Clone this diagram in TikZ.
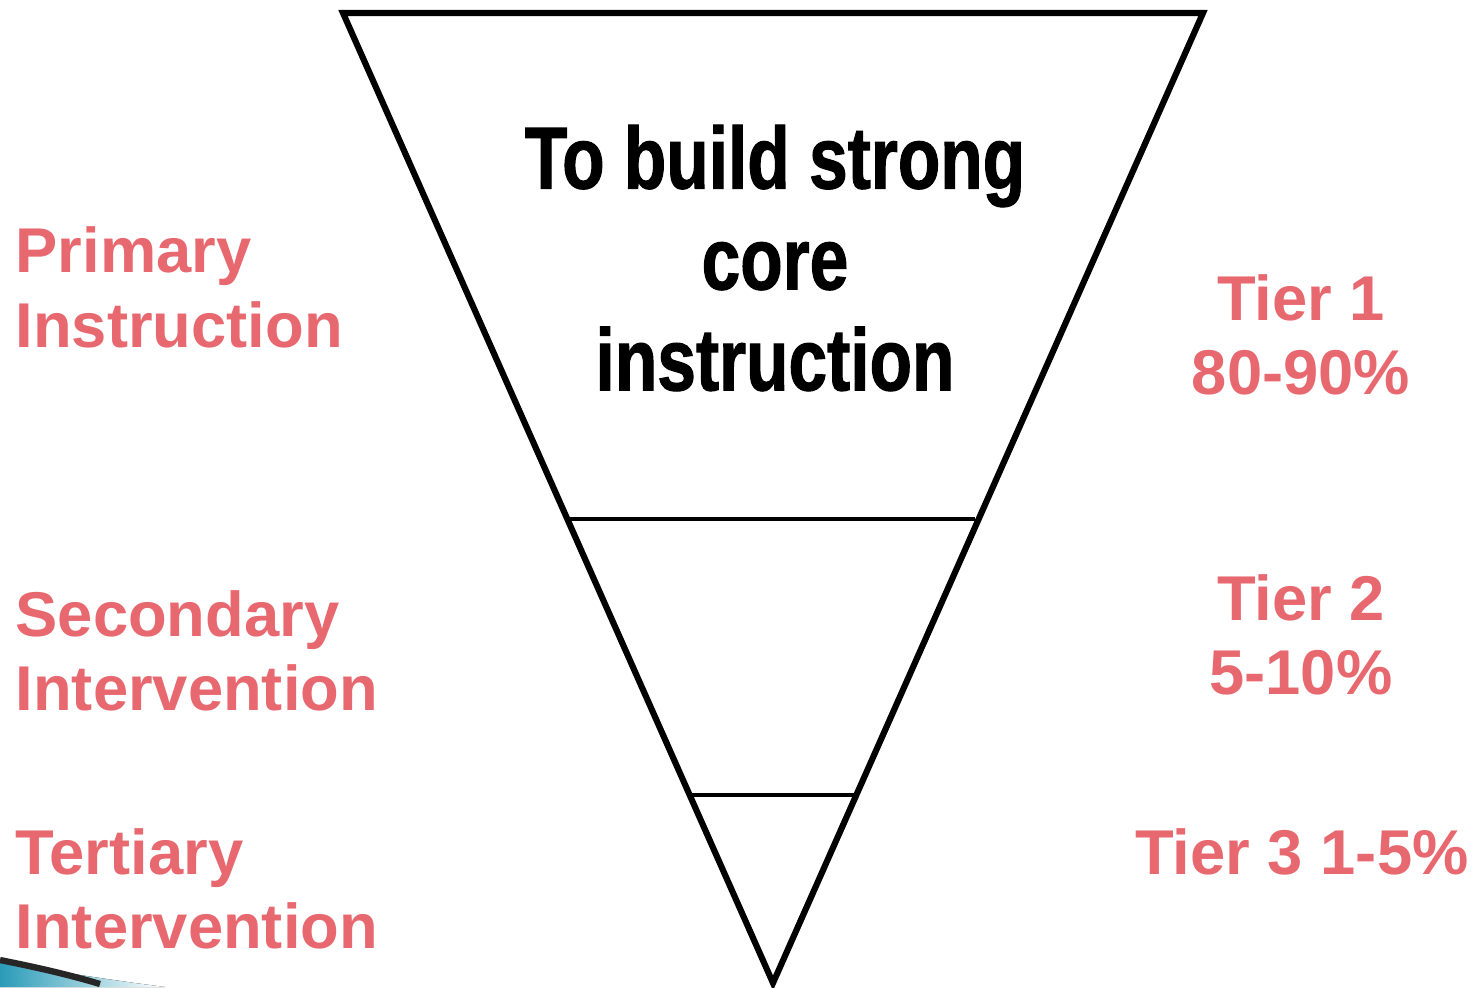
\documentclass[tikz,border=0pt]{standalone}
\usepackage{fontspec}
\setmainfont{Liberation Sans}
\newfontfamily\corefont[FakeStretch=0.79,FakeBold=1.2]{Liberation Sans}
\definecolor{tiered}{HTML}{E8686F}
\definecolor{swoosh}{HTML}{2A9BB8}
\begin{document}
\begin{tikzpicture}[x=0.01cm,y=-0.01cm,
  sidelabel/.style={text=tiered, font=\fontsize{18}{21.3}\selectfont\bfseries, inner sep=0pt},
  corelabel/.style={text=black, font=\corefont\fontsize{25}{28.7}\selectfont\bfseries, align=center, inner sep=0pt},
  edge/.style={line width=1.75pt, line join=miter}]
\useasboundingbox (0,0) rectangle (1475,987);

% corner swoosh
\fill[left color=swoosh, right color=white] (0,962) .. controls (60,972) and (110,980) .. (165,987) -- (0,987) -- cycle;
\draw[line width=1.8pt, black!85] (0,960) .. controls (40,968) and (70,975) .. (100,984);

% inverted triangle with tier dividers
\coordinate (tl) at (343,13);
\coordinate (tr) at (1203,13);
\coordinate (apex) at (773,983);
\draw[edge] (tl) -- (tr) -- (apex) -- cycle;
\coordinate (d1l) at (570,519);
\coordinate (d1r) at (975,519);
\coordinate (d2l) at (689,795);
\coordinate (d2r) at (856,795);
\draw[line width=1.3pt] (d1l) -- (d1r);
\draw[line width=1.3pt] (d2l) -- (d2r);

\node[corelabel] (core) at (775,258) {To build strong\\core\\instruction};

% left labels
\node[sidelabel, anchor=base west] (prim) at (15,272) {Primary};
\node[sidelabel, anchor=base west] (prim2) at (15,347) {Instruction};
\node[sidelabel, anchor=base west] (sec) at (15,636) {Secondary};
\node[sidelabel, anchor=base west] (sec2) at (15,710) {Intervention};
\node[sidelabel, anchor=base west] (ter) at (15,874) {Tertiary};
\node[sidelabel, anchor=base west] (ter2) at (15,948) {Intervention};

% right labels
\node[sidelabel, anchor=base] (t1) at (1301,320) {Tier 1};
\node[sidelabel, anchor=base] (t1p) at (1301,394) {80-90\%};
\node[sidelabel, anchor=base] (t2) at (1301,620) {Tier 2};
\node[sidelabel, anchor=base] (t2p) at (1301,694) {5-10\%};
\node[sidelabel, anchor=base] (t3) at (1302,874) {Tier 3 1-5\%};
\end{tikzpicture}
\end{document}
